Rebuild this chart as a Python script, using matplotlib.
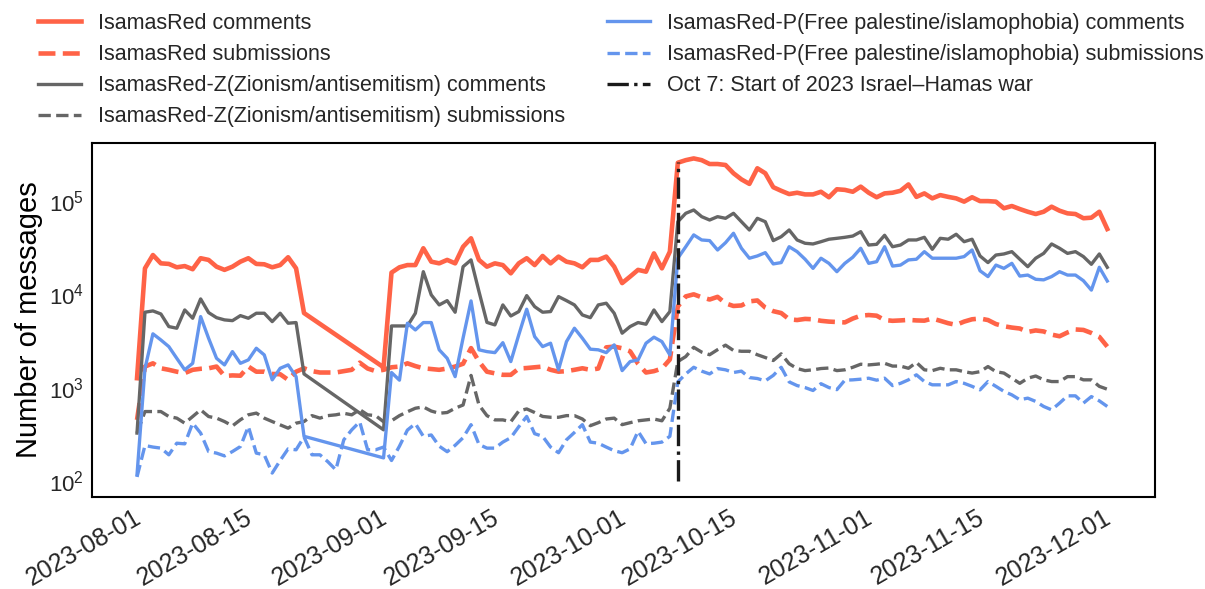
import matplotlib
matplotlib.use("Agg")
import matplotlib.pyplot as plt
import matplotlib.dates as mdates
import pandas as pd

# daily message counts
# comments were not collected between 2023-08-22 and 2023-08-30
comment_dates = pd.date_range("2023-07-31", "2023-08-21").append(
    pd.date_range("2023-08-31", "2023-11-30"))
submission_dates = pd.date_range("2023-07-31", "2023-11-30")
war_start = pd.Timestamp("2023-10-07")
war_line_span = (100, 260000)

red_comments = [
    1260, 19000, 26400, 21500, 21200, 19500, 20100, 18600, 24400, 23400,
    19800, 18300, 19800, 22400, 24400, 21200, 21000, 19500, 20600, 25000,
    19000, 6300,
    1650, 17100, 19500, 20600, 20600, 31200, 22400, 21500, 23400, 21500,
    32400, 39900, 23400, 19800, 21500, 20600, 16800, 21500, 24400, 20600,
    25800, 21500, 25400, 22400, 21500, 19500, 23400, 23400, 25400, 19800,
    13200, 15500, 18300, 17500, 27500, 19000, 28700, 258000, 275000, 287000,
    275000, 250000, 250000, 244000, 199000, 171000, 153000, 225000, 199000, 141000,
    129000, 119000, 123000, 118000, 118000, 126000, 110000, 134000, 132000, 126000,
    143000, 123000, 110000, 121000, 123000, 129000, 151000, 111000, 121000, 107000,
    116000, 111000, 107000, 98700, 110000, 100000, 100000, 98700, 83800, 88600,
    82200, 76900, 72700, 76900, 87100, 78900, 73900, 72700, 65500, 66400,
    76900, 50200,
]
gray_comments = [
    325, 6430, 6640, 6160, 4510, 4330, 6800, 5540, 8930, 6370,
    5620, 5320, 5220, 5910, 5540, 6270, 6270, 5100, 6270, 4900,
    4980, 1400,
    352, 4580, 4580, 4580, 6270, 17500, 9860, 7700, 8560, 6430,
    19800, 23400, 10700, 5000, 4700, 7700, 5860, 6530, 9690, 7380,
    6430, 6530, 9450, 8560, 7700, 6010, 5620, 7700, 8030, 6270,
    3830, 4510, 4980, 4780, 6800, 5100, 6530, 60100, 74000, 80300,
    68100, 62700, 68100, 65400, 74000, 60100, 49000, 65400, 60100, 37700,
    41500, 49000, 38300, 35300, 34700, 36700, 39000, 39900, 40900, 42200,
    47000, 33800, 34400, 43000, 32400, 33800, 38300, 38300, 40900, 30400,
    39900, 39000, 44100, 36700, 39000, 25800, 21900, 26400, 27100, 28700,
    23800, 19800, 24400, 27500, 34700, 31200, 27500, 28700, 25400, 21000,
    27100, 19500,
]
blue_comments = [
    116, 1600, 3770, 3240, 2750, 2060, 1550, 1820, 5770, 3380,
    2060, 1750, 2430, 1820, 1980, 2640, 2240, 1210, 1610, 1750,
    1310, 300,
    176, 1450, 1200, 4900, 4150, 4980, 4980, 2540, 2060, 1310,
    3400, 8500, 2540, 2430, 2370, 3030, 1900, 3670, 6920, 3520,
    2750, 2990, 1550, 3110, 4330, 3380, 2580, 2540, 2370, 2870,
    1520, 1900, 1980, 2990, 3470, 3110, 2240, 24400, 32400, 43400,
    38300, 37700, 29900, 35800, 45200, 31200, 24400, 25800, 28000, 21200,
    21900, 32400, 28700, 23800, 19000, 24400, 21500, 17500, 21500, 25000,
    31200, 21500, 22400, 32400, 20100, 20600, 23400, 23800, 28700, 24400,
    24400, 24400, 24400, 25400, 29900, 17900, 15500, 20600, 19000, 21500,
    15700, 16100, 14500, 14300, 15500, 17500, 16100, 16100, 14000, 11100,
    19500, 13900,
]
red_submissions = [
    450, 1680, 1820, 1610, 1550, 1480, 1430, 1550, 1590, 1610,
    1680, 1330, 1350, 1340, 1680, 1480, 1480, 1400, 1390, 1210,
    1480, 1610, 1500, 1450, 1450, 1450, 1500, 1550, 1850, 1600,
    1500, 1550, 1650, 1680, 1820, 1700, 1610, 1580, 1550, 1600,
    1680, 1800, 2650, 1900, 1480, 1420, 1370, 1370, 1600, 1620,
    1650, 1680, 1550, 1480, 1500, 1550, 1610, 1550, 1600, 2700,
    2750, 2640, 2450, 1800, 1450, 1500, 1600, 2000, 7400, 9500,
    10000, 9300, 8800, 9400, 8000, 7500, 7600, 8400, 8600, 7200,
    6600, 6300, 5400, 5300, 5450, 5400, 5200, 5100, 5050, 5000,
    5500, 5900, 6000, 5900, 5300, 5200, 5250, 5320, 5250, 5220,
    5500, 5200, 4900, 4700, 5100, 5400, 5500, 5300, 4800, 4550,
    4400, 4300, 3950, 4100, 4000, 3700, 3550, 3900, 4200, 4150,
    3850, 3500, 2750,
]
gray_submissions = [
    325, 553, 553, 553, 489, 470, 415, 489, 577, 489,
    470, 432, 388, 451, 510, 532, 470, 432, 398, 367,
    415, 432, 500, 470, 500, 510, 530, 510, 580, 510,
    500, 430, 440, 500, 550, 600, 620, 560, 530, 540,
    600, 650, 1350, 650, 500, 450, 450, 430, 560, 590,
    540, 490, 480, 480, 500, 500, 460, 390, 420, 460,
    470, 400, 420, 440, 450, 460, 440, 600, 1900, 2150,
    2700, 2400, 2250, 2550, 2850, 2500, 2450, 2450, 2250, 2100,
    1950, 2300, 1800, 1600, 1520, 1550, 1600, 1620, 1520, 1550,
    1650, 1780, 1750, 1780, 1820, 1700, 1700, 1610, 1860, 1550,
    1520, 1610, 1550, 1550, 1480, 1430, 1480, 1680, 1480, 1430,
    1260, 1110, 1260, 1330, 1210, 1160, 1160, 1310, 1310, 1210,
    1210, 1030, 960,
]
blue_submissions = [
    110, 239, 230, 224, 190, 253, 249, 415, 325, 206,
    198, 185, 206, 233, 382, 198, 190, 121, 165, 220,
    215, 295, 190, 190, 160, 131, 275, 352, 429, 215,
    215, 230, 165, 235, 350, 410, 300, 310, 235, 205,
    240, 290, 400, 245, 224, 224, 260, 290, 380, 490,
    320, 300, 230, 200, 275, 330, 400, 260, 253, 230,
    210, 200, 220, 340, 250, 253, 260, 300, 1150, 1400,
    1650, 1500, 1400, 1600, 1550, 1450, 1500, 1280, 1250, 1180,
    1350, 1650, 1150, 1050, 1000, 930, 1100, 1000, 950, 1200,
    1210, 1230, 1260, 1200, 1260, 1050, 1110, 1210, 1370, 1160,
    1070, 1070, 1070, 1160, 1110, 1030, 945, 1160, 1030, 910,
    835, 740, 770, 710, 627, 577, 681, 815, 815, 681,
    800, 720, 627,
]

plt.rcParams['font.family'] = ['Liberation Sans', 'DejaVu Sans']
plt.rcParams['text.color'] = '.15'
plt.rcParams['xtick.color'] = '.15'
plt.rcParams['ytick.color'] = '.15'

red, gray, blue = '#ff6347', '#666666', '#6495ed'

fig = plt.figure(figsize=(12.05, 5.89), dpi=100)
ax = fig.add_axes([0.0763, 0.1562, 0.8822, 0.6010])

ax.plot(comment_dates, red_comments, color=red, lw=3.3, label='IsamasRed comments')
ax.plot(submission_dates, red_submissions, color=red, lw=3.3, ls='--', label='IsamasRed submissions')
ax.plot(comment_dates, gray_comments, color=gray, lw=2.4,
        label='IsamasRed-Z(Zionism/antisemitism) comments')
ax.plot(submission_dates, gray_submissions, color=gray, lw=2.4, ls='--',
        label='IsamasRed-Z(Zionism/antisemitism) submissions')
ax.plot(comment_dates, blue_comments, color=blue, lw=2.4,
        label='IsamasRed-P(Free palestine/islamophobia) comments')
ax.plot(submission_dates, blue_submissions, color=blue, lw=2.4, ls='--',
        label='IsamasRed-P(Free palestine/islamophobia) submissions')
ax.vlines(war_start, war_line_span[0], war_line_span[1], color='#1a1a1a', lw=2.4,
          linestyles='-.', label='Oct 7: Start of 2023 Israel\u2013Hamas war')

ax.set_yscale('log')
ax.set_ylim(67, 4.2e5)
ax.set_xlim(pd.Timestamp('2023-07-25 08:00'), pd.Timestamp('2023-12-06'))
ax.xaxis.set_major_locator(mdates.DayLocator(bymonthday=[1, 15]))
ax.xaxis.set_major_formatter(mdates.DateFormatter('%Y-%m-%d'))
ax.tick_params(axis='both', which='both', length=0)
ax.tick_params(axis='x', labelsize=18, pad=6)
ax.tick_params(axis='y', labelsize=16, pad=6)
for lab in ax.get_xticklabels():
    lab.set_rotation(30)
    lab.set_ha('right')
ax.set_ylabel('Number of messages', fontsize=21)
for sp in ax.spines.values():
    sp.set_color('black')
    sp.set_linewidth(1.5)

fig.legend(*ax.get_legend_handles_labels(), loc='upper left', bbox_to_anchor=(0.021, 1.0),
           ncol=2, frameon=False, fontsize=15.5, handlelength=2.0, handletextpad=0.8,
           columnspacing=1.9, labelspacing=0.47, borderaxespad=0.2)

fig.savefig('out.png', dpi=100)
